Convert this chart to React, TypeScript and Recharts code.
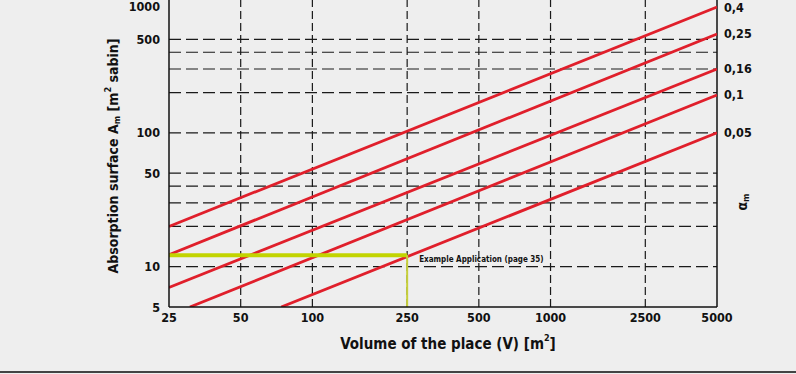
import { LineChart, Line, XAxis, YAxis, ReferenceLine } from "recharts";

const volumeTicks = [25, 50, 100, 250, 500, 1000, 2500, 5000];
const volumeGrid = [50, 100, 250, 500, 1000, 2500];
const surfaceTicks = [5, 10, 50, 100, 500, 1000];
const surfaceGrid = [10, 20, 30, 40, 50, 100, 200, 300, 400, 500];

// mean absorption coefficient lines (start / end points)
const alphaLabels = ["0,4", "0,25", "0,16", "0,1", "0,05"];
const startVolume = [25, 25, 25, 30.6, 74];
const startSurface = [20, 12.3, 7, 5, 5];
const endVolume = [5000, 5000, 5000, 5000, 5000];
const endSurface = [871, 548, 300, 192, 100];

// worked example
const exampleVolume = 250;
const exampleSurface = 12.2;
const exampleText = "Example Application (page 35)";

const FONT = "'DejaVu Sans Condensed', 'Liberation Sans Narrow', 'DejaVu Sans', sans-serif";

const alphaSeries = alphaLabels.map((label, i) => ({
  label,
  data: [
    { v: startVolume[i], a: startSurface[i] },
    { v: endVolume[i], a: endSurface[i] },
  ],
}));

const exampleHorizontal = [
  { v: volumeTicks[0], a: exampleSurface },
  { v: exampleVolume, a: exampleSurface },
];
const exampleVertical = [
  { v: exampleVolume, a: exampleSurface },
  { v: exampleVolume, a: surfaceTicks[0] },
];

const YTitle = () => (
  <text
    transform="rotate(-90, 113, 166)"
    x={113}
    y={166}
    textAnchor="middle"
    dominantBaseline="central"
    fontFamily={FONT}
    fontWeight="bold"
    fontSize={14}
    fill="#111"
  >
    Absorption surface A
    <tspan fontSize={9} dy={4}>m</tspan>
    <tspan dy={-4}> [m</tspan>
    <tspan fontSize={9} dy={-5}>2</tspan>
    <tspan dy={5}> sabin]</tspan>
  </text>
);

const XTitle = () => (
  <text
    x={448}
    y={354}
    textAnchor="middle"
    dominantBaseline="central"
    fontFamily={FONT}
    fontWeight="bold"
    fontSize={15}
    fill="#111"
  >
    Volume of the place (V)  [m
    <tspan fontSize={9} dy={-6}>2</tspan>
    <tspan dy={6}>]</tspan>
  </text>
);

// top label sits on the clipped edge; keep it readable
const SurfaceTick = (p: any) => (
  <text
    x={p.x}
    y={Math.max(p.y, 16)}
    textAnchor="end"
    dominantBaseline="central"
    fontFamily={FONT}
    fontWeight="bold"
    fontSize={12.5}
    fill="#111"
  >
    {p.payload.value}
  </text>
);

export default function App() {
  return (
    <div
      style={{
        position: "absolute",
        left: 0,
        top: 0,
        width: 796,
        height: 374,
        overflow: "hidden",
        background: "#eeeeee",
      }}
    >
      <div style={{ position: "absolute", left: 0, top: -10 }}>
        <LineChart width={796} height={384} margin={{ top: 9, right: 79, bottom: 7, left: 0 }}>
          <XAxis
            dataKey="v"
            type="number"
            scale="log"
            domain={[25, 5000]}
            ticks={volumeTicks}
            allowDataOverflow
            axisLine={{ stroke: "#111", strokeWidth: 1.5 }}
            tickLine={false}
            tickMargin={0}
            height={60}
            tick={{ fill: "#111", fontSize: 12.5, fontWeight: "bold", fontFamily: FONT }}
            label={{ content: () => <XTitle /> }}
          />
          <YAxis
            type="number"
            scale="log"
            domain={[5, 1000]}
            ticks={surfaceTicks}
            allowDataOverflow
            width={169}
            axisLine={{ stroke: "#111", strokeWidth: 1.5 }}
            tickLine={false}
            tickMargin={3}
            tick={<SurfaceTick />}
            label={{ content: () => <YTitle /> }}
          />
          {surfaceGrid.map((a) => (
            <ReferenceLine key={"h" + a} y={a} stroke="#1a1a1a" strokeWidth={1.2} strokeDasharray="12 5" />
          ))}
          {volumeGrid.map((v) => (
            <ReferenceLine key={"v" + v} x={v} stroke="#1a1a1a" strokeWidth={1.2} strokeDasharray="8 4" />
          ))}
          <ReferenceLine
            x={5000}
            stroke="#111"
            strokeWidth={1.5}
            label={{
              content: () => (
                <text
                  transform="rotate(-90, 742, 212)"
                  x={742}
                  y={212}
                  textAnchor="middle"
                  dominantBaseline="central"
                  fontFamily={FONT}
                  fontWeight="bold"
                  fontSize={14}
                  fill="#111"
                >
                  α<tspan fontSize={9} dy={4}>m</tspan>
                </text>
              ),
            }}
          />
          {alphaSeries.map((s) => (
            <Line
              key={s.label}
              data={s.data}
              dataKey="a"
              type="linear"
              stroke="#e01f2b"
              strokeWidth={2.8}
              dot={false}
              isAnimationActive={false}
              label={(p: any) =>
                p.index === s.data.length - 1 ? (
                  <text
                    key={s.label}
                    x={p.x + 7}
                    y={p.y}
                    dominantBaseline="central"
                    fontFamily={FONT}
                    fontWeight="bold"
                    fontSize={12.5}
                    fill="#111"
                  >
                    {s.label}
                  </text>
                ) : (
                  <g key={s.label + p.index} />
                )
              }
            />
          ))}
          <Line
            data={exampleHorizontal}
            dataKey="a"
            type="linear"
            stroke="#c2d400"
            strokeWidth={4}
            dot={false}
            isAnimationActive={false}
          />
          <Line
            data={exampleVertical}
            dataKey="a"
            type="linear"
            stroke="#c6cf3a"
            strokeWidth={2}
            dot={false}
            isAnimationActive={false}
            label={(p: any) =>
              p.index === 0 ? (
                <text
                  key="ex"
                  x={p.x + 12}
                  y={p.y + 4}
                  dominantBaseline="central"
                  fontFamily={FONT}
                  fontWeight="bold"
                  fontSize={8}
                  fill="#111"
                >
                  {exampleText}
                </text>
              ) : (
                <g key={"ex" + p.index} />
              )
            }
          />
        </LineChart>
      </div>
      <div
        style={{
          position: "absolute",
          left: 0,
          top: 371,
          width: 796,
          height: 2,
          background: "#444",
        }}
      />
    </div>
  );
}
